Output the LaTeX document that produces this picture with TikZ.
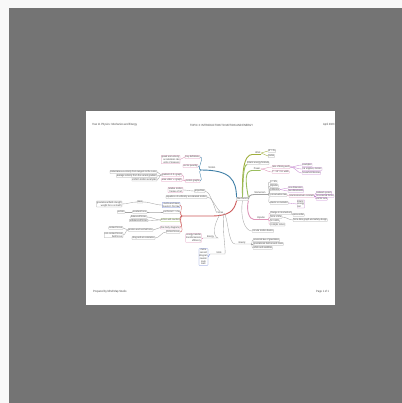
\documentclass[tikz,border=0pt]{standalone}
\usepackage{fontspec}
\setmainfont{Liberation Sans}
\newfontfamily\mapfont[FakeStretch=0.84]{Liberation Sans}
\definecolor{bggrey}{RGB}{116,116,116}
\definecolor{strip}{RGB}{248,248,248}
\definecolor{pk}{RGB}{222,150,185}
\definecolor{bl}{RGB}{110,130,215}
\definecolor{gn}{RGB}{155,190,95}
\definecolor{pu}{RGB}{200,140,210}
\definecolor{rd}{RGB}{205,90,90}
\definecolor{tl}{RGB}{60,125,165}
\definecolor{ol}{RGB}{160,175,60}
\definecolor{gy}{RGB}{165,165,165}
\begin{document}
\begin{tikzpicture}[x=1bp,y=-1bp,
  txt/.style={font=\mapfont\fontsize{2.6}{2.8}\selectfont, text=black!72, inner sep=0.35pt},
  rl/.style={txt, anchor=west, draw=#1, line width=0.2pt, rounded corners=0.3pt},
  rl/.default=gy,
  ll/.style={txt, anchor=east, draw=#1, line width=0.2pt, rounded corners=0.3pt},
  ll/.default=gy,
  lk/.style={draw=#1, line width=0.35pt},
  lk/.default=gy,
  br/.style={draw=#1, line width=0.9pt},
  hd/.style={font=\mapfont\fontsize{3}{3.4}\selectfont, text=black!72, inner sep=0pt}]
\useasboundingbox (0,0) rectangle (402,403);
\fill[strip] (0,0) rectangle (402,403);
\fill[bggrey] (9,8) rectangle (402,403);
\fill[white] (86,111) rectangle (335,305);
\begin{scope}
\clip (86,111) rectangle (335,305);
% header and footer
\node[hd, anchor=west] (hl) at (92,125) {Year 11 Physics: Mechanics and Energy};
\node[hd, anchor=west] (hc) at (190,125) {TOPIC 3: INTRODUCTION TO MOTION AND ENERGY};
\node[hd, anchor=west] (hr) at (323,125) {April 2023};
\node[hd, anchor=west] (fl) at (93,292) {Prepared by Mind Map Studio};
\node[hd, anchor=west] (fr) at (316,292) {Page 1 of 1};

% centre
\node[txt, draw=gy, line width=0.25pt, rounded corners=1pt, inner sep=0.6pt] (c) at (242.5,199) {Mechanics};

% ---------------- top-left branch (teal)
\coordinate (aj) at (201,170);
\node[txt] (A) at (212,167.6) {Motion};
\draw[br=tl] (c.north west) .. controls (236,180) and (231,170) .. (aj);
\node[ll=pk] (A1) at (200,157) {Key definitions};
\node[ll=pk] (A2) at (198,166) {vector quantity};
\node[ll=pk] (A3) at (200,181) {motion graphs};
\draw[lk=tl] (aj) to[out=180,in=0] (A1.east);
\draw[lk=tl] (aj) to[out=180,in=0] (A2.east);
\draw[lk=tl] (aj) to[out=180,in=0] (A3.east);
\node[ll=pk, align=right] (A1a) at (180,159.5) {speed and velocity\\ acceleration rate\\ units of measure};
\draw[lk=pk] (A1.west) to[out=180,in=0] (A1a.east);
\node[ll=pk] (A3a) at (182,175) {gradient of d-t graph};
\node[ll=pk] (A3b) at (182,180) {area under v-t graph};
\draw[lk=pk] (A3.west) to[out=180,in=0] (A3a.east);
\draw[lk=pk] (A3.west) to[out=180,in=0] (A3b.east);
\node[ll] (A3a1) at (157,172) {instantaneous velocity from tangent to the curve};
\node[ll] (A3a2) at (157,176) {average velocity from the secant gradient};
\node[ll] (A3a3) at (157,179.5) {uniform motion examples};
\draw[lk] (A3a.west) to[out=180,in=0] (A3a1.east);
\draw[lk] (A3a.west) to[out=180,in=0] (A3a2.east);
\draw[lk] (A3a.west) to[out=180,in=0] (A3a3.east);

% ---------------- small nodes near centre-left
\node[ll=pk, align=right] (B1) at (183,190) {relative motion\\ frames of ref.};
\node[ll] (B2) at (205,191) {projectiles};
\node[ll] (B3) at (207,197) {equations of uniformly accelerated motion};
\draw[lk] (B2.west) to[out=180,in=0] (B1.east);

% ---------------- left branch (red)
\coordinate (lj) at (182,216);
\node[txt] (L) at (220,213) {Forces};
\draw[br=rd] (c.south west) .. controls (234,212) and (228,215.5) .. (213,216) -- (lj);
\draw[lk] (B3.east) .. controls (212,197) and (214,205) .. (L.north);
\draw[lk] (B2.east) .. controls (209,191) and (212,200) .. (L.north west);
\node[ll=bl, align=right] (L1) at (180,205) {inertia and mass\\ Newton's first law};
\node[ll] (L2) at (180,212) {net force F = ma};
\node[ll=gn] (L3) at (180,220) {action and reaction};
\node[ll=pk] (L4) at (180,227.5) {free body diagrams};
\node[ll] (L5) at (180,232) {friction forces};
\foreach \n in {L1,L2,L3,L4,L5}{\draw[lk=rd] (lj) to[out=180,in=0] (\n.east);}
\node[ll] (L1a) at (143,202) {mass};
\node[ll, align=right] (L1b) at (122,204) {gravitational field strength\\ weight force on Earth};
\draw[lk] (L1.west) to[out=180,in=0] (L1a.east);
\draw[lk] (L1a.west) to[out=180,in=0] (L1b.east);
\node[ll] (L2a) at (147,212) {resultant force};
\node[ll] (L2b) at (125,212) {vectors};
\draw[lk] (L2.west) to[out=180,in=0] (L2a.east);
\draw[lk] (L2a.west) to[out=180,in=0] (L2b.east);
\node[ll] (L3a) at (147,217) {balanced forces};
\node[ll] (L3b) at (148,220.5) {unbalanced forces};
\draw[lk] (L3.west) to[out=180,in=0] (L3a.east);
\draw[lk] (L3.west) to[out=180,in=0] (L3b.east);
\node[ll] (L4a) at (153,230) {tension and normal force};
\node[ll] (L4b) at (123,228) {contact forces};
\node[ll, align=right] (L4c) at (123,235) {non-contact forces\\ field forces};
\node[ll] (L5a) at (155,238) {drag and air resistance};
\draw[lk] (L4.west) to[out=180,in=0] (L4a.east);
\draw[lk] (L4a.west) to[out=180,in=0] (L4b.east);
\draw[lk] (L4a.west) to[out=180,in=0] (L4c.east);
\draw[lk] (L5.west) to[out=180,in=0] (L5a.east);

% ---------------- lower centre
\node[txt] (D) at (210.5,236.5) {Energy};
\coordinate (dj) at (202.5,238);
\draw[lk] (L.south) .. controls (214,224) and (212,236) .. (218,238) -- (dj);
\node[ll=pk, align=right] (D1) at (201.5,238) {energy transfer\\ transformations\\ efficiency};
\draw[lk=pk] (dj) to[out=180,in=0] (D1.east);
\node[txt] (E) at (219,252.5) {Units};
\coordinate (ej) at (210,254);
\draw[lk] (L.south east) .. controls (222,230) and (226,250) .. (225,254) -- (ej);
\node[ll=bl, align=center] (E1) at (208,257) {metre\\ second\\ kilogram\\ newton\\ joule\\ watt};
\draw[lk=bl] (ej) -- (E1.east);

% ---------------- top-right branches (green / olive)
\node[txt] (R1) at (258,153) {Work};
\draw[br=ol] (c.north) .. controls (242,170) and (244,155) .. (252,154.5) -- (R1.south east);
\node[rl] (R1a) at (268,151) {W = Fs};
\node[rl] (R1b) at (268,156) {joules};
\draw[lk=ol] (R1.east) to[out=0,in=180] (R1a.west);
\draw[lk=ol] (R1.east) to[out=0,in=180] (R1b.west);
\node[rl] (R2) at (247,163) {kinetic energy formula};
\draw[br=gn] (c.north) .. controls (243,175) and (244,164.5) .. (R2.south west);
\node[txt] (R3) at (257,169) {Power};
\draw[br=gn] (c.north east) .. controls (245,180) and (245,171) .. (252,170.5) -- (R3.south east);
\node[rl=pk] (R3a) at (272,167) {rate of doing work};
\node[rl=pk] (R3b) at (272,172) {P = W / t in watts};
\draw[lk=pk] (R3.east) to[out=0,in=180] (R3a.west);
\draw[lk=pk] (R3.east) to[out=0,in=180] (R3b.west);
\node[rl=pu] (R3a1) at (302,165) {examples};
\node[rl=pu] (R3a2) at (302,169) {car engines, motors};
\node[rl=pu] (R3a3) at (302,173) {household devices};
\foreach \n in {R3a1,R3a2,R3a3}{\draw[lk=pu] (R3a.east) to[out=0,in=180] (\n.west);}

% ---------------- right branch
\node[txt] (R4) at (260,193) {Momentum};
\coordinate (r4j) at (268,194.5);
\draw[br=gy] (c.east) .. controls (248,197) and (250,194.5) .. (254,194.5) -- (r4j);
\node[rl] (R4a) at (270,182) {p = mv};
\node[rl] (R4b) at (270,186) {impulse};
\node[rl] (R4c) at (270,189.5) {collisions};
\node[rl] (R4d) at (270,195) {conservation law};
\node[rl] (R4e) at (270,203) {elastic vs inelastic};
\foreach \n in {R4a,R4b,R4c,R4d,R4e}{\draw[lk] (r4j) to[out=0,in=180] (\n.west);}
\node[rl=pu] (R4c1) at (288,188) {one dimension};
\node[rl=pu] (R4c2) at (288,191) {two dimensions};
\draw[lk=pu] (R4c.east) to[out=0,in=180] (R4c1.west);
\draw[lk=pu] (R4c.east) to[out=0,in=180] (R4c2.west);
\node[rl=pk] (R4d1) at (289,196) {total momentum constant};
\draw[lk=pk] (R4d.east) to[out=0,in=180] (R4d1.west);
\node[rl=pu] (R4d2) at (316,193) {isolated system};
\node[rl=pu] (R4d3) at (316,196) {no external forces};
\node[rl=pu] (R4d4) at (316,199) {vector sum};
\foreach \n in {R4d2,R4d3,R4d4}{\draw[lk=pu] (R4d1.east) to[out=0,in=180] (\n.west);}
\node[rl=pu, align=left] (R4e1) at (297,204) {kinetic\\ energy\\ lost};
\draw[lk=pu] (R4e.east) to[out=0,in=180] (R4e1.west);

% ---------------- lower right branch
\node[txt] (R5) at (261,218) {Impulse};
\coordinate (r5j) at (268,219.5);
\draw[br=pk] (c.south east) .. controls (246,210) and (249,219.5) .. (254,219.5) -- (r5j);
\node[rl] (R5a) at (270,213) {change in momentum};
\node[rl] (R5b) at (270,217) {force x time};
\node[rl] (R5c) at (270,221) {N s units};
\node[rl] (R5d) at (270,224.5) {crumple zones};
\foreach \n in {R5a,R5b,R5c,R5d}{\draw[lk=pk] (r5j) to[out=0,in=180] (\n.west);}
\node[rl] (R5a1) at (293,215) {area under};
\node[rl] (R5b1) at (293,220) {force-time graph and safety design};
\draw[lk] (R5a.east) to[out=0,in=180] (R5a1.west);
\draw[lk] (R5b.east) to[out=0,in=180] (R5b1.west);

\node[rl] (R6) at (252,231) {circular motion basics};
\draw[lk=gy] (c.south) .. controls (240,215) and (244,231) .. (R6.west);

\node[txt] (R7) at (242,242.5) {Gravity};
\coordinate (r7j) at (251,244);
\draw[lk=gy] (L.east) .. controls (228,216) and (228,244) .. (235,244) -- (r7j);
\node[rl] (R7a) at (253,240) {universal law of gravitation};
\node[rl] (R7b) at (253,244) {gravitational field around mass};
\node[rl] (R7c) at (253,248) {orbits and satellites};
\foreach \n in {R7a,R7b,R7c}{\draw[lk] (r7j) to[out=0,in=180] (\n.west);}
\end{scope}
\end{tikzpicture}
\end{document}
